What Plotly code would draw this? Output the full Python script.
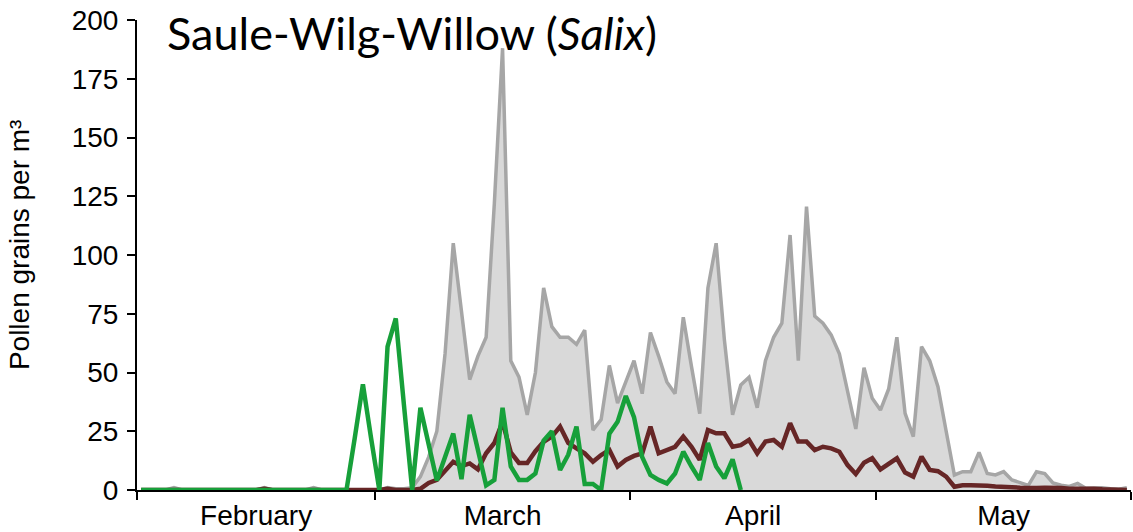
import pandas as pd
import plotly.graph_objects as go

# Day index 0 = 1 Feb 2024 ... 120 = 31 May 2024
start_day = "2024-02-01 12:00"
n_days = 121

# Grey area series (pollen grains per m3)
grey_values = [
    0, 0, 0, 0, 1, 0, 0, 0, 0, 0,
    0, 0, 0, 0, 0, 1, 0, 0, 0, 0,
    0, 1, 0, 0, 0, 0, 0, 0, 0, 0,
    1, 0.5, 0.5, 1, 5.7, 14, 25, 58, 105, 75,
    47, 57, 65, 122, 188, 55, 48, 32, 50, 86,
    69.5, 65, 65, 62, 68, 25.5, 30, 53, 37, 46,
    55, 41, 67, 57, 46, 41, 73.5, 52.5, 32.5, 86,
    105, 64, 32, 44.7, 48, 35, 55, 65, 71, 108.5,
    55, 120.6, 74, 71, 66, 58, 42.6, 26, 52, 39,
    34, 43, 65, 32.6, 22.7, 61, 55, 44, 25, 6.4,
    7.8, 7.8, 16, 7, 6.4, 7.8, 4.3, 3, 2, 7.8,
    7, 3, 2, 1.5, 2.8, 0.7, 0.7, 1, 0.5, 0.3,
    1,
]

# Dark red series
brown_values = [
    0, 0, 0, 0, 0, 0, 0, 0, 0, 0,
    0, 0, 0, 0, 0, 0.5, 0, 0, 0, 0,
    0, 0, 0, 0, 0, 0, 0, 0, 0, 0,
    0.5, 0, 0, 0, 0.5, 3, 4.3, 8.5, 12, 10.2,
    11.3, 8.8, 15.6, 20, 29, 16, 11.5, 11.5, 16.5, 20.5,
    22.7, 27, 20, 17.7, 15.6, 12, 14.9, 17, 10, 12.8,
    14.5, 15.6, 27, 15.6, 17, 18.4, 22.7, 18.4, 12.8, 25.5,
    24.1, 24.1, 18.4, 19.1, 21.3, 15.6, 20.6, 21.3, 18.4, 28.4,
    20.6, 20.6, 17, 18.4, 17.7, 16.3, 10.6, 6.8, 11.6, 13.5,
    8.8, 11.3, 13.5, 7.4, 5.7, 14.2, 8.5, 8, 5.7, 1.4,
    2, 2, 2, 1.8, 1.5, 1.5, 1.2, 1, 0.8, 0.8,
    1, 1, 0.8, 0.5, 0.5, 0.8, 0.5, 0.3, 0.3, 0.2,
    0,
]

# Green series (ends 14 April)
green_values = [
    0, 0, 0, 0, 0, 0, 0, 0, 0, 0,
    0, 0, 0, 0, 0, 0, 0, 0, 0, 0,
    0, 0, 0, 0, 0, 0, 22, 45, 22, 0,
    61, 73, 36, 0, 35, 19, 4, 14, 24, 4.6,
    32, 17, 2, 4.3, 35, 10, 4.3, 4.3, 7, 21,
    25, 8.5, 15, 27, 2.6, 2.6, 0, 24, 29, 40,
    31, 14, 6.4, 4.3, 2.8, 7, 16.3, 10, 4.3, 20,
    10, 5, 13, 0,
]

y_ticks = [0, 25, 50, 75, 100, 125, 150, 175, 200]
title_main = "Saule-Wilg-Willow ("
title_italic = "Salix"
y_title = "Pollen grains per m³"

dates = pd.date_range(start_day, periods=n_days, freq="D")

fig = go.Figure()
fig.add_trace(go.Scatter(
    x=dates, y=grey_values, mode="lines",
    line=dict(color="#a6a6a6", width=3.5),
    fill="tozeroy", fillcolor="#d9d9d9", showlegend=False,
))
fig.add_trace(go.Scatter(
    x=dates, y=brown_values, mode="lines",
    line=dict(color="#662626", width=4.5), showlegend=False,
))
fig.add_trace(go.Scatter(
    x=dates[:len(green_values)], y=green_values, mode="lines",
    line=dict(color="#17a03a", width=4.5), showlegend=False,
))

tick_font = dict(family="Liberation Sans, Arial, sans-serif", size=28, color="#000000")

fig.update_layout(
    width=1133, height=532,
    margin=dict(l=137, r=2, t=20, b=42),
    paper_bgcolor="white", plot_bgcolor="white",
    xaxis=dict(
        type="date",
        range=["2024-02-01", "2024-06-01"],
        tick0="2024-02-01", dtick="M1",
        ticklabelmode="period", tickformat="%B",
        showgrid=False, zeroline=False,
        showline=True, linecolor="black", linewidth=2,
        ticks="outside", ticklen=8, tickwidth=2, tickcolor="black",
        tickfont=tick_font, automargin=False, ticklabelstandoff=-9,
    ),
    yaxis=dict(
        range=[0, 200], tickvals=y_ticks,
        showgrid=False, zeroline=False,
        showline=True, linecolor="black", linewidth=2,
        ticks="outside", ticklen=8, tickwidth=2, tickcolor="black",
        tickfont=tick_font, automargin=False, ticklabelstandoff=3,
    ),
    annotations=[
        dict(
            text=title_main + "<i>" + title_italic + "</i>)",
            xref="paper", yref="paper", x=(165 - 137) / 995, y=1.035,
            xanchor="left", yanchor="top", showarrow=False,
            font=dict(family="Lato, Noto Sans, sans-serif", size=45, color="#000000"),
        ),
        dict(
            text=y_title,
            xref="paper", yref="paper", x=(20 - 137) / 995, y=(490 - 245) / 470,
            xanchor="center", yanchor="middle", textangle=-90, showarrow=False,
            font=dict(family="Liberation Sans, Arial, sans-serif", size=28, color="#000000"),
        ),
    ],
)

fig.write_html(
    "out.html",
    config={"displayModeBar": False},
    post_script="document.body.style.margin='0';document.body.style.padding='0';",
)
